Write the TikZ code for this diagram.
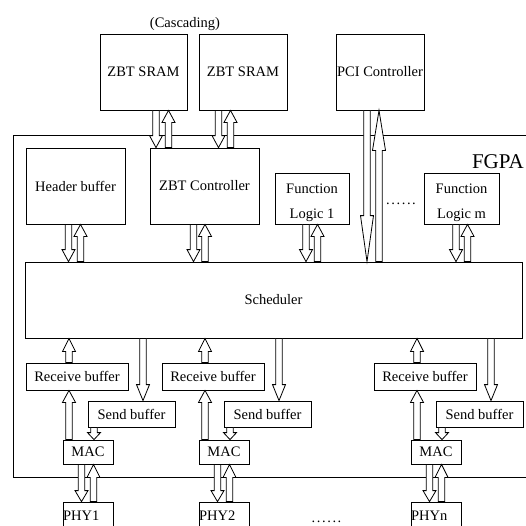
\documentclass[tikz,border=0pt]{standalone}
\usepackage{fontspec}
\setmainfont{Liberation Serif}
\usetikzlibrary{calc}
\newcommand\gapdots{.\kern1.6pt.\kern1.6pt.\kern1.6pt.\kern1.6pt.\kern1.6pt.}
\tikzset{
  unit/.style={draw,line width=0.8pt,inner sep=0pt,align=center,
    minimum width=#1,font=\fontsize{14.5}{25}\selectfont},
  unit/.default=87,
  tall/.style={unit=#1,minimum height=76},
  label/.style={inner sep=0pt,font=\fontsize{14.5}{17}\selectfont},
  % open double-line arrow, vertical, head length as argument
  hollow/.style={draw,fill=white,line width=0.8pt,to path={
    let \p1=(\tikztostart),\p2=(\tikztotarget),
        \n2={\y2-sign(\y2-\y1)*#1} in
    ({\x1-3.3pt},\y1) -- ({\x1-3.3pt},{\n2*1pt}) -- ({\x1-6.5pt},{\n2*1pt})
    -- (\x1,\y2) -- ({\x1+6.5pt},{\n2*1pt}) -- ({\x1+3.3pt},{\n2*1pt})
    -- ({\x1+3.3pt},\y1) -- cycle}},
  hollow/.default=12pt,
}
\begin{document}
\begin{tikzpicture}[x=1pt,y=-1pt]
  \useasboundingbox (0,0) rectangle (526,525);
  \clip (0,0) rectangle (526,525);
  \node[draw,line width=0.8pt,minimum width=527,minimum height=342] (fpgabox) at (276.5,306) {};
  \node[anchor=base east,inner sep=0pt,font=\fontsize{21}{21}\selectfont] (fpga) at (524,168) {FGPA};
  \node[label] (casc) at (185,24.5) {(Cascading)};
  % memory and host side
  \node[tall=87] (sram1) at (143.5,72) {ZBT SRAM};
  \node[tall=88] (sram2) at (243,72) {ZBT SRAM};
  \node[tall=88] (pci) at (380,72) {PCI Controller};
  \node[tall=99] (hdr) at (75.5,186) {Header buffer};
  \node[tall=109] (zbtc) at (204.5,186) {ZBT Controller};
  \node[unit=74,minimum height=51,text height=40,text depth=0] (fl1) at (312,198.5) {Function\\Logic 1};
  \node[unit=75,minimum height=51,text height=40,text depth=0] (flm) at (461.5,198.5) {Function\\Logic m};
  \node[label,anchor=base] (dots1) at (401,204) {\gapdots};
  \node[tall=497] (sch) at (273.5,300) {Scheduler};
  \draw[hollow] ([xshift=12.5]sram1.south) to (zbtc.north);
  \draw[hollow] ([xshift=25]sram1.south |- zbtc.north) to (sram1.south);
  \draw[hollow] ([xshift=-24.5]sram2.south) to (zbtc.north);
  \draw[hollow] ([xshift=-12.5]sram2.south |- zbtc.north) to (sram2.south);
  \draw[hollow=46pt] ([xshift=-13]pci.south) to (sch.north);
  \draw[hollow=40pt] ([xshift=-1]pci.south |- sch.north) to (pci.south);
  \foreach \blk/\down/\rise in {hdr/-7/5,zbtc/-11/0.5,fl1/-6/5.5,flm/-5.5/6}{
    \draw[hollow] ([xshift=\down]\blk.south) to (sch.north);
    \draw[hollow] ([xshift=\rise]\blk.south |- sch.north) to (\blk.south);
  }
  % network ports
  \foreach \col/\dx in {1/0,2/136,n/348}{
    \node[unit=102,minimum height=27] (rb\col) at (77+\dx,376.5) {Receive buffer};
    \node[unit=87,minimum height=26] (sb\col) at (131.5+\dx,414) {Send buffer};
    \node[unit=50,minimum height=24] (mac\col) at (88+\dx,452) {MAC};
    \node[unit=50,minimum height=28,text width=50,align=left] (phy\col) at (88+\dx,516) {PHY\col};
    \draw[hollow=13pt] ([xshift=-8]rb\col.north) to (sch.south);
    \draw[hollow=16pt] ([xshift=11.5]sb\col.north |- sch.south) to (sb\col.north);
    \draw[hollow] ([xshift=-19]mac\col.north) to (rb\col.south);
    \draw[hollow=7pt] ([xshift=-37.5]sb\col.south) to (mac\col.north);
    \draw[hollow=11pt] ([xshift=-6.5]mac\col.south) to (phy\col.north);
    \draw[hollow=13pt] ([xshift=5.5]mac\col.south |- phy\col.north) to (mac\col.south);
  }
  \node[label,anchor=base] (dots2) at (326.5,522.5) {\gapdots};
\end{tikzpicture}
\end{document}
